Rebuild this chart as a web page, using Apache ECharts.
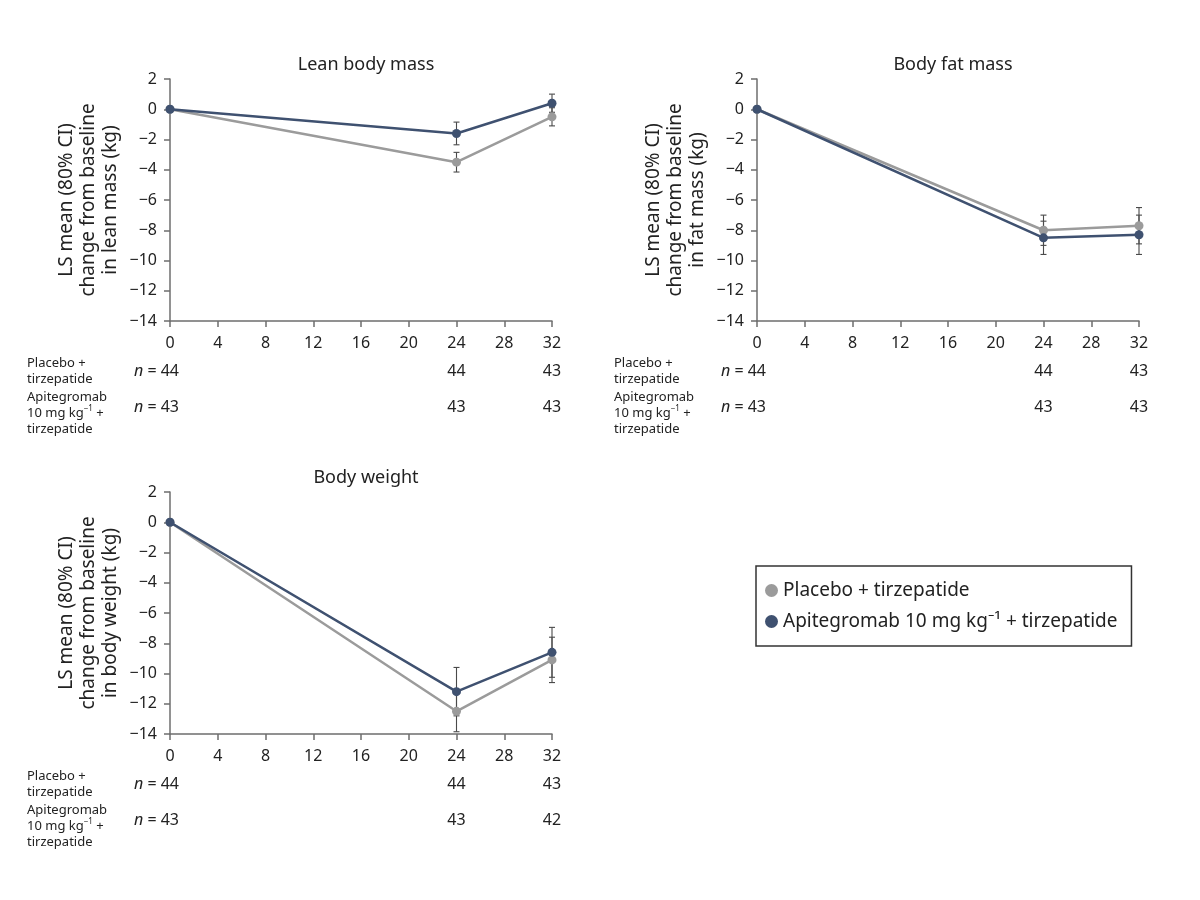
<!DOCTYPE html>
<html>
<head>
<meta charset="utf-8">
<script src="https://cdn.jsdelivr.net/npm/echarts@6/dist/echarts.min.js"></script>
<style>
  html, body { margin: 0; padding: 0; background: #fff; }
  #chart { width: 1200px; height: 900px; }
</style>
</head>
<body>
<div id="chart"></div>
<script>
// weeks on the x axis
const weeks = [0, 24, 32];

// LS mean change from baseline (kg) and half-width of the 80% CI
const leanPlacebo = [0, -3.5, -0.5];
const leanPlaceboCI = [0, 0.65, 0.6];
const leanApi = [0, -1.6, 0.4];
const leanApiCI = [0, 0.75, 0.6];

const fatPlacebo = [0, -8.0, -7.7];
const fatPlaceboCI = [0, 1.0, 1.2];
const fatApi = [0, -8.5, -8.3];
const fatApiCI = [0, 1.1, 1.3];

const weightPlacebo = [0, -12.5, -9.1];
const weightPlaceboCI = [0, 1.35, 1.5];
const weightApi = [0, -11.2, -8.6];
const weightApiCI = [0, 1.6, 1.65];

// number of participants per visit
const leanNPlacebo = [44, 44, 43];
const leanNApi = [43, 43, 43];
const fatNPlacebo = [44, 44, 43];
const fatNApi = [43, 43, 43];
const weightNPlacebo = [44, 44, 43];
const weightNApi = [43, 43, 42];

const NAME_PLACEBO = 'Placebo + tirzepatide';
const NAME_API = 'Apitegromab 10 mg kg\u207B\u00B9 + tirzepatide';
const C_PLACEBO = '#9b9b9b';
const C_API = '#3f5170';
const AXIS = '#6e6e6e';
const FONT = '"Noto Sans", sans-serif';

const panels = [
  { title: 'Lean body mass', ylab: 'in lean mass (kg)', left: 170, top: 79,
    p: leanPlacebo, pci: leanPlaceboCI, a: leanApi, aci: leanApiCI, np: leanNPlacebo, na: leanNApi },
  { title: 'Body fat mass', ylab: 'in fat mass (kg)', left: 757, top: 79,
    p: fatPlacebo, pci: fatPlaceboCI, a: fatApi, aci: fatApiCI, np: fatNPlacebo, na: fatNApi },
  { title: 'Body weight', ylab: 'in body weight (kg)', left: 170, top: 492,
    p: weightPlacebo, pci: weightPlaceboCI, a: weightApi, aci: weightApiCI, np: weightNPlacebo, na: weightNApi }
];
const GW = 382, GH = 242;

const chart = echarts.init(document.getElementById('chart'));

function pairs(ys) { return weeks.map((w, i) => [w, ys[i]]); }
function ciRows(ys, ci) {
  return weeks.map((w, i) => [w, ys[i] - ci[i], ys[i] + ci[i]]).filter((r, i) => ci[i] > 0);
}

function errorBars(params, api) {
  const x = api.value(0);
  const lo = api.coord([x, api.value(1)]);
  const hi = api.coord([x, api.value(2)]);
  const st = { stroke: '#4a4a4a', lineWidth: 1.1 };
  return {
    type: 'group',
    children: [
      { type: 'line', shape: { x1: lo[0], y1: lo[1], x2: hi[0], y2: hi[1] }, style: st },
      { type: 'line', shape: { x1: lo[0] - 3, y1: lo[1], x2: lo[0] + 3, y2: lo[1] }, style: st },
      { type: 'line', shape: { x1: hi[0] - 3, y1: hi[1], x2: hi[0] + 3, y2: hi[1] }, style: st }
    ]
  };
}

function nCells(params, api) {
  const w = api.value(0);
  const row = api.value(2);
  const n = api.value(3);
  const pt = api.coord([w, -14]);
  const y = pt[1] + (row === 0 ? 50 : 86);
  if (w === 0) {
    return { type: 'text', x: pt[0] + 9, y: y,
      style: { text: '{i|n} = ' + n, textAlign: 'right', textVerticalAlign: 'middle',
        font: '16px ' + FONT, fill: '#222',
        rich: { i: { fontStyle: 'italic', fontSize: 16, fontFamily: FONT, fill: '#222' } } } };
  }
  return { type: 'text', x: pt[0], y: y,
    style: { text: String(n), textAlign: 'center', textVerticalAlign: 'middle', font: '16px ' + FONT, fill: '#222' } };
}

const grid = [], xAxis = [], yAxis = [], series = [], title = [], graphic = [];

panels.forEach((pn, k) => {
  grid.push({ left: pn.left, top: pn.top, width: GW, height: GH });
  xAxis.push({
    gridIndex: k, type: 'value', min: 0, max: 32, interval: 4,
    axisLine: { onZero: false, lineStyle: { color: AXIS, width: 1.5 } },
    axisTick: { show: true, length: 6, lineStyle: { color: AXIS, width: 1.5 } },
    axisLabel: { color: '#222', fontSize: 16, fontFamily: FONT, margin: 14 },
    splitLine: { show: false }
  });
  yAxis.push({
    gridIndex: k, type: 'value', min: -14, max: 2, interval: 2,
    name: 'LS mean (80% CI)\nchange from baseline\n' + pn.ylab,
    nameLocation: 'middle', nameGap: 48,
    nameTextStyle: { color: '#222', fontSize: 19, fontFamily: FONT, lineHeight: 22 },
    axisLine: { show: true, onZero: false, lineStyle: { color: AXIS, width: 1.5 } },
    axisTick: { show: true, length: 6, lineStyle: { color: AXIS, width: 1.5 } },
    axisLabel: { color: '#222', fontSize: 16, fontFamily: FONT, margin: 13,
      formatter: v => String(v).replace('-', '\u2212') },
    splitLine: { show: false }
  });
  title.push({
    text: pn.title, left: pn.left + GW / 2, top: pn.top - 28, textAlign: 'center',
    textStyle: { color: '#222', fontSize: 18, fontWeight: 'normal', fontFamily: FONT }
  });

  series.push({
    type: 'custom', name: 'ci-p' + k, xAxisIndex: k, yAxisIndex: k, renderItem: errorBars,
    encode: { x: 0, y: [1, 2] }, data: ciRows(pn.p, pn.pci), z: 1, silent: true
  });
  series.push({
    type: 'custom', name: 'ci-a' + k, xAxisIndex: k, yAxisIndex: k, renderItem: errorBars,
    encode: { x: 0, y: [1, 2] }, data: ciRows(pn.a, pn.aci), z: 1, silent: true
  });
  series.push({
    type: 'line', name: NAME_PLACEBO, xAxisIndex: k, yAxisIndex: k, data: pairs(pn.p),
    symbol: 'circle', symbolSize: 9, z: 2,
    lineStyle: { color: C_PLACEBO, width: 2.5 }, itemStyle: { color: C_PLACEBO }
  });
  series.push({
    type: 'line', name: NAME_API, xAxisIndex: k, yAxisIndex: k, data: pairs(pn.a),
    symbol: 'circle', symbolSize: 9, z: 3,
    lineStyle: { color: C_API, width: 2.5 }, itemStyle: { color: C_API }
  });
  const nData = [];
  weeks.forEach((w, i) => { nData.push([w, -14, 0, pn.np[i]]); nData.push([w, -14, 1, pn.na[i]]); });
  series.push({
    type: 'custom', name: 'n' + k, xAxisIndex: k, yAxisIndex: k, renderItem: nCells,
    encode: { x: 0, y: 1 }, data: nData, clip: false, silent: true
  });

  const gb = pn.top + GH;
  const lx = pn.left - 143;
  graphic.push({ type: 'text', left: lx, top: gb + 34,
    style: { text: 'Placebo +\ntirzepatide', font: '13px ' + FONT, fill: '#222', lineHeight: 16 } });
  graphic.push({ type: 'text', left: lx, top: gb + 68,
    style: { text: 'Apitegromab\n10 mg kg{s|\u22121} +\ntirzepatide', font: '13px ' + FONT, fill: '#222', lineHeight: 16,
      rich: { s: { fontSize: 8, fontFamily: FONT, verticalAlign: 'top', lineHeight: 16, padding: [0, 0, 6, 0] } } } });
});

chart.setOption({
  backgroundColor: '#fff',
  animation: false,
  title: title,
  grid: grid,
  xAxis: xAxis,
  yAxis: yAxis,
  legend: {
    data: [NAME_PLACEBO, NAME_API].map(n => ({ name: n, icon: 'circle' })),
    orient: 'vertical', left: 756, top: 566,
    itemWidth: 13, itemHeight: 13, itemGap: 12,
    padding: [15, 14, 15, 9],
    borderColor: '#333', borderWidth: 1.5, borderRadius: 0,
    textStyle: { color: '#222', fontSize: 19, fontFamily: FONT },
    selectedMode: false
  },
  graphic: graphic,
  series: series
});
</script>
</body>
</html>
